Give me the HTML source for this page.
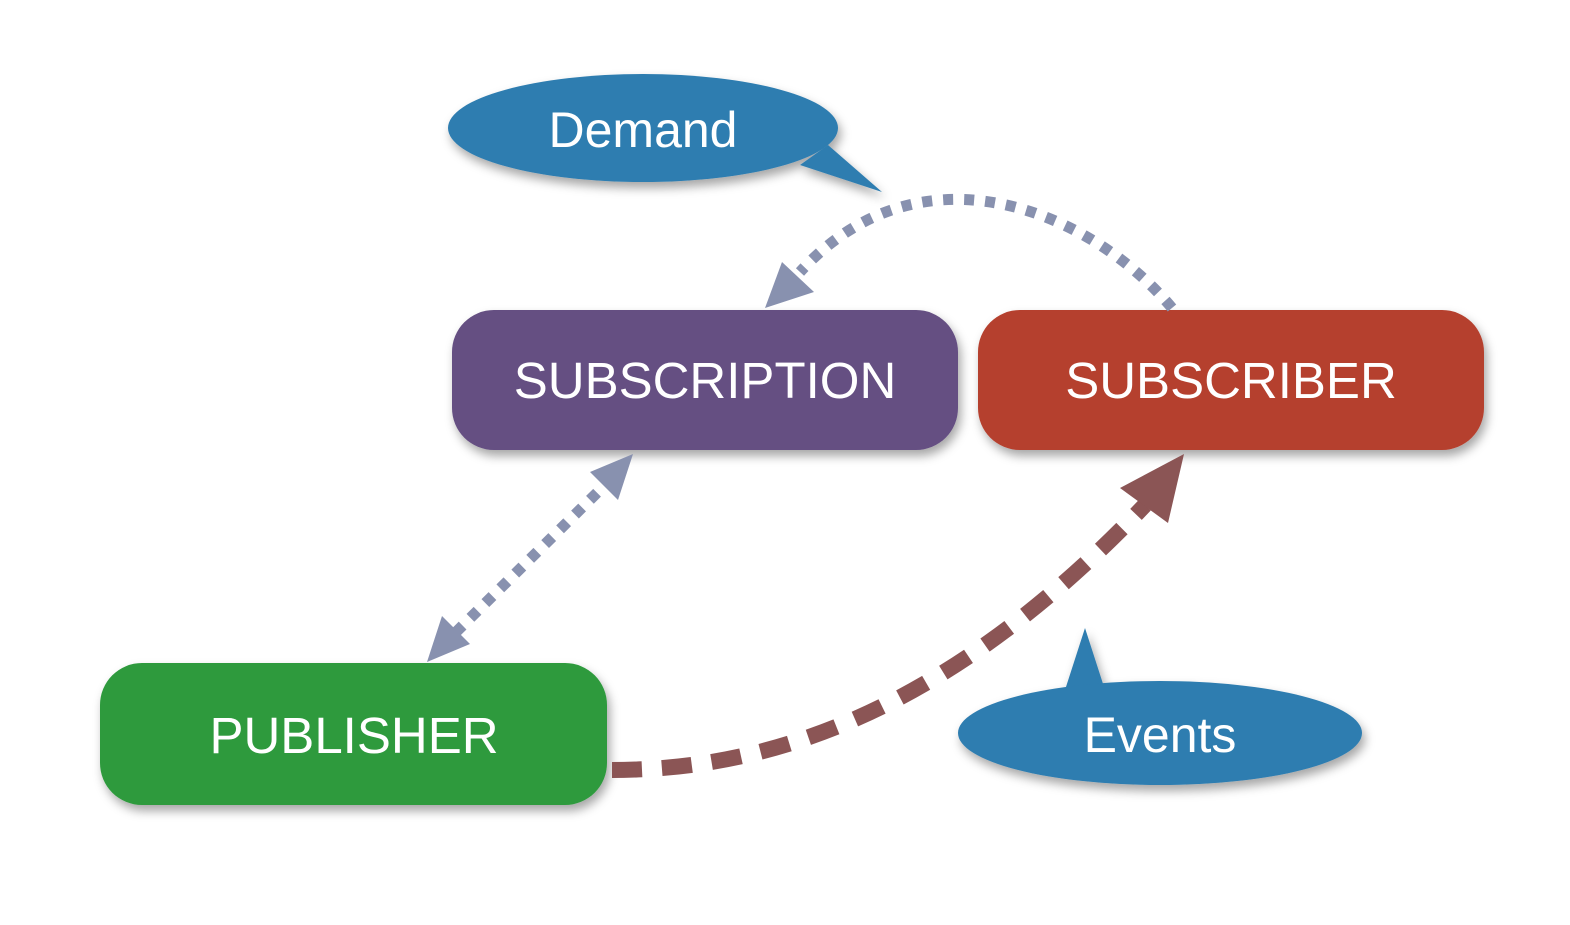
<!DOCTYPE html>
<html><head><meta charset="utf-8"><style>
html,body{margin:0;padding:0;background:#fff;}
body{width:1570px;height:920px;overflow:hidden;}
svg text{font-family:"Liberation Sans",sans-serif;fill:#fff;}
</style></head><body>
<svg width="1570" height="920" viewBox="0 0 1570 920" xmlns="http://www.w3.org/2000/svg">
<defs>
<filter id="sh" x="-10%" y="-10%" width="130%" height="140%">
<feDropShadow dx="3" dy="6" stdDeviation="5" flood-color="#000" flood-opacity="0.35"/>
</filter>
</defs>
<g filter="url(#sh)">
<path d="M800,165 L882,192 L828,145 Z" fill="#2E7DB0"/>
<ellipse cx="643" cy="128" rx="195" ry="54" fill="#2E7DB0"/>
</g>
<text x="643" y="147" font-size="50" text-anchor="middle">Demand</text>
<g filter="url(#sh)">
<path d="M1065,690 L1085,628 L1105,690 Z" fill="#2E7DB0"/>
<ellipse cx="1160" cy="733" rx="202" ry="52" fill="#2E7DB0"/>
</g>
<text x="1160" y="752" font-size="50" text-anchor="middle">Events</text>
<rect x="452" y="310" width="506" height="140" rx="42" fill="#654F82" filter="url(#sh)"/>
<text x="705" y="398" font-size="51" text-anchor="middle">SUBSCRIPTION</text>
<rect x="978" y="310" width="506" height="140" rx="42" fill="#B5412F" filter="url(#sh)"/>
<text x="1231" y="398" font-size="51" text-anchor="middle">SUBSCRIBER</text>
<rect x="100" y="663" width="507" height="142" rx="42" fill="#2E9A3E" filter="url(#sh)"/>
<text x="354" y="753" font-size="51" text-anchor="middle">PUBLISHER</text>
<path d="M1172,308 C1090,210 920,140 800,272" fill="none" stroke="#8891AF" stroke-width="11" stroke-dasharray="10 11"/>
<path d="M765,308 L782,262 L814,292 Z" fill="#8891AF"/>
<line x1="612" y1="478" x2="448" y2="640" stroke="#8891AF" stroke-width="11" stroke-dasharray="10 11"/>
<path d="M633,454 L618,500 L590,472 Z" fill="#8891AF"/>
<path d="M427,662 L442,616 L470,644 Z" fill="#8891AF"/>
<path d="M612,770 C760,770 940,720 1145,505" fill="none" stroke="#8B5555" stroke-width="16" stroke-dasharray="30 20"/>
<path d="M1184,454 L1168,523 L1120,488 Z" fill="#8B5555"/>
</svg>
</body></html>
